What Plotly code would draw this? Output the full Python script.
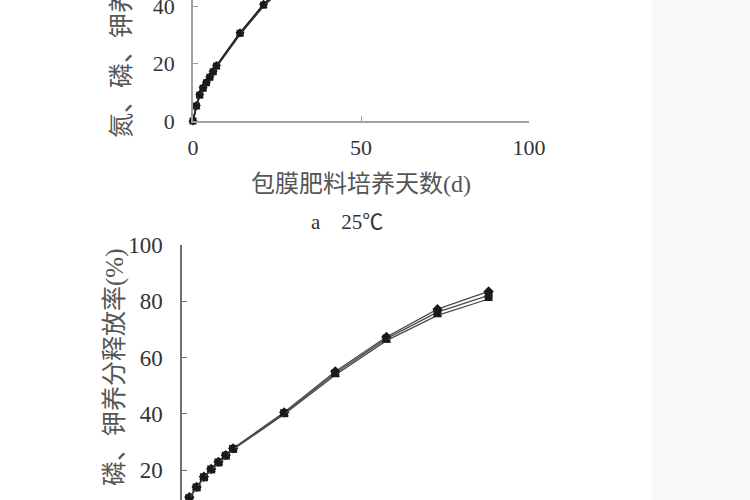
import plotly.graph_objects as go

# ---- data ----
days_a = [0, 1, 2, 3, 4, 5, 6, 7, 14, 21, 28]
n_a = [0, 5.4, 9.2, 11.6, 13.5, 15.4, 17.3, 19.3, 30.7, 40.6, 48.5]
p_a = [0, 5.2, 9.0, 11.4, 13.3, 15.2, 17.1, 19.1, 30.5, 40.3, 48.0]
k_a = [0, 5.0, 8.8, 11.2, 13.1, 15.0, 16.9, 18.9, 30.2, 40.0, 47.6]

days_b = [0, 1, 2, 3, 4, 5, 6, 7, 14, 21, 28, 35, 42]
n_b = [0, 10.3, 14.0, 17.6, 20.4, 22.9, 25.3, 27.7, 40.5, 55.0, 67.3, 77.2, 83.5]
p_b = [0, 10.0, 13.8, 17.4, 20.2, 22.7, 25.1, 27.5, 40.2, 54.4, 66.7, 76.1, 82.1]
k_b = [0, 9.8, 13.6, 17.2, 20.0, 22.5, 24.9, 27.3, 39.8, 53.8, 66.0, 75.0, 80.8]

series_names = ["N", "P", "K"]
markers = ["diamond", "square", "triangle-up"]

ylabel = "氮、磷、钾养分释放率(%)"
xlabel = "包膜肥料培养天数(d)"
caption_a = "a　25℃"

W, H = 750, 500
def px(x):
    return x / W
def py(y):
    return (H - y) / H

FONT = "Liberation Serif, Noto Sans CJK SC, serif"

fig = go.Figure()

for vals, name, sym in zip([n_a, p_a, k_a], series_names, markers):
    fig.add_trace(go.Scatter(
        x=days_a, y=vals, mode="lines+markers", name=name,
        xaxis="x", yaxis="y", cliponaxis=False,
        line=dict(color="#2a2a2a", width=1.6),
        marker=dict(symbol=sym, size=7, color="#1a1a1a"),
        showlegend=False))

for vals, name, sym in zip([n_b, p_b, k_b], series_names, markers):
    fig.add_trace(go.Scatter(
        x=days_b, y=vals, mode="lines+markers", name=name,
        xaxis="x2", yaxis="y2", cliponaxis=False,
        line=dict(color="#4a4a4a", width=1.3),
        marker=dict(symbol=sym, size=8, color="#1a1a1a"),
        showlegend=False))

tickfont = dict(family=FONT, size=22, color="#333333")

fig.update_layout(
    width=W, height=H,
    margin=dict(l=0, r=0, t=0, b=0, pad=0),
    paper_bgcolor="white", plot_bgcolor="rgba(0,0,0,0)",
    xaxis=dict(domain=[px(193), px(529)], range=[0, 100], dtick=50,
               showline=True, linecolor="#a0a0a0", linewidth=1.5,
               ticks="inside", ticklen=5, tickcolor="#a0a0a0",
               showgrid=False, zeroline=False, tickfont=tickfont,
               ticklabelstandoff=6, anchor="y", automargin=False,
               ticklabeloverflow="allow"),
    yaxis=dict(domain=[py(121), 1], range=[0, 121 / 2.875], dtick=20,
               showline=True, linecolor="#a0a0a0", linewidth=1.5,
               ticks="inside", ticklen=5, tickcolor="#a0a0a0",
               showgrid=False, zeroline=False, tickfont=tickfont,
               ticklabelstandoff=12, anchor="x", automargin=False,
               ticklabeloverflow="allow"),
    xaxis2=dict(domain=[px(182), px(547)], range=[0, 50],
                showline=False, ticks="", showticklabels=False,
                showgrid=False, zeroline=False, anchor="y2",
                automargin=False),
    yaxis2=dict(domain=[0, py(245)], range=[100 - 255 / 2.8125, 100],
                dtick=20, tick0=0,
                showline=True, linecolor="#707070", linewidth=1.5,
                ticks="inside", ticklen=5, tickcolor="#707070",
                showgrid=False, zeroline=False,
                tickfont=dict(family=FONT, size=23, color="#333333"),
                ticklabelstandoff=13, anchor="x2", automargin=False,
                ticklabeloverflow="allow"),
    shapes=[dict(type="rect", xref="paper", yref="paper",
                 x0=px(652), x1=1, y0=0, y1=1, layer="below",
                 fillcolor="#f9f7f8", line=dict(width=0))],
    annotations=[
        dict(text=ylabel, textangle=-90, xref="paper", yref="paper",
             x=px(122), y=py(-6), xanchor="center", yanchor="middle",
             showarrow=False, font=dict(family=FONT, size=25, color="#555555")),
        dict(text=ylabel, textangle=-90, xref="paper", yref="paper",
             x=px(115), y=py(392), xanchor="center", yanchor="middle",
             showarrow=False, font=dict(family=FONT, size=25, color="#555555")),
        dict(text=xlabel, xref="paper", yref="paper",
             x=px(361), y=py(184), xanchor="center", yanchor="middle",
             showarrow=False, font=dict(family=FONT, size=24, color="#555555")),
        dict(text=caption_a, xref="paper", yref="paper",
             x=px(347), y=py(222), xanchor="center", yanchor="middle",
             showarrow=False, font=dict(family=FONT, size=21, color="#333333")),
    ],
)

fig.write_html("out.html",
               config={"displayModeBar": False},
               post_script="document.body.style.margin='0';")
